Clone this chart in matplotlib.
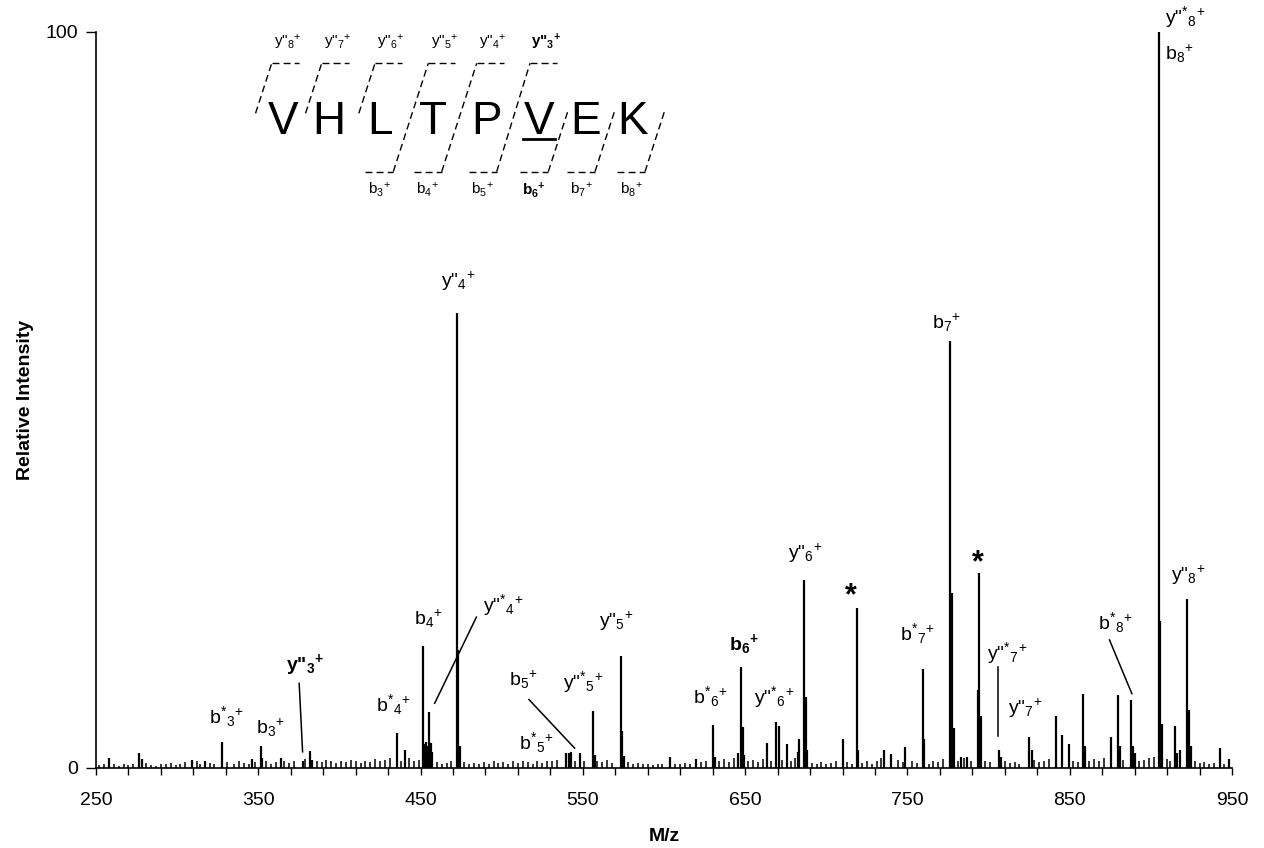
import numpy as np
import matplotlib
matplotlib.use('Agg')
import matplotlib.pyplot as plt
from matplotlib.ticker import FixedLocator

plt.rcParams['font.family'] = ['Liberation Sans', 'DejaVu Sans']
plt.rcParams['mathtext.fontset'] = 'custom'
plt.rcParams['mathtext.rm'] = 'Liberation Sans'
plt.rcParams['mathtext.bf'] = 'Liberation Sans:bold'
plt.rcParams['mathtext.default'] = 'regular'

# fragment / major peaks (m/z, relative intensity)
peak_mz = [258.2, 276.7, 278.5, 308.9, 317.0, 327.5, 345.9, 351.4, 352.4, 363.7,
           377.3, 381.8, 383.0, 435.2, 440.3, 451.3, 452.3, 453.3, 454.3, 455.3,
           456.3, 457.3, 472.3, 473.3, 474.3, 539.8, 541.7, 543.0, 548.3, 556.3,
           557.3, 573.3, 574.3, 575.3, 603.5, 619.5, 630.4, 631.4, 645.3, 647.4,
           648.4, 649.4, 663.5, 668.8, 670.6, 675.7, 682.5, 683.3, 686.4, 687.4,
           688.4, 710.4, 718.7, 719.7, 735.6, 740.0, 748.5, 759.4, 760.4, 776.4,
           777.4, 778.4, 783.0, 787.0, 793.3, 794.3, 795.3, 806.4, 807.4, 825.0,
           826.7, 841.6, 845.3, 849.8, 858.4, 859.4, 875.6, 879.8, 880.8, 887.9,
           888.9, 890.0, 904.9, 905.9, 906.9, 915.0, 916.0, 918.2, 922.5, 923.5,
           924.5, 942.3, 948.0]
peak_int = [1.3, 2.0, 1.2, 1.1, 1.0, 3.5, 1.2, 3.0, 1.3, 1.3,
            1.0, 2.3, 1.1, 4.7, 2.5, 16.6, 3.2, 3.6, 3.0, 7.6,
            3.4, 2.2, 61.8, 16.0, 3.0, 2.0, 2.0, 2.2, 2.1, 7.7,
            1.8, 15.2, 5.0, 1.6, 1.5, 1.2, 5.8, 1.5, 2.0, 13.7,
            5.6, 1.8, 3.4, 6.3, 5.7, 3.3, 2.2, 3.9, 25.6, 9.7,
            2.5, 3.9, 21.7, 2.5, 2.4, 1.9, 2.8, 13.5, 4.0, 58.0,
            23.8, 5.5, 1.5, 1.5, 10.6, 26.5, 7.0, 2.4, 1.5, 4.2,
            2.5, 7.1, 4.5, 3.3, 10.1, 3.0, 4.2, 9.9, 3.0, 9.2,
            3.0, 2.0, 100.0, 20.0, 6.0, 5.7, 2.0, 2.4, 23.0, 7.9,
            3.0, 2.7, 1.2]

# baseline noise (m/z, relative intensity)
noise_peaks = [(252, 0.4), (255, 0.6), (261, 0.5), (264, 0.3), (267, 0.6), (270, 0.4),
               (273, 0.5), (281, 0.7), (284, 0.4), (287, 0.3), (290, 0.6), (293, 0.5),
               (296, 0.7), (299, 0.4), (302, 0.6), (305, 0.8), (312, 0.9), (314, 0.6),
               (320, 0.7), (323, 0.5), (331, 0.8), (335, 0.6), (338, 0.9), (341, 0.7),
               (344, 0.5), (348, 0.8), (355, 0.9), (358, 0.6), (361, 0.8), (366, 1.0),
               (369, 0.7), (372, 0.9), (379, 1.2), (386, 1.0), (389, 0.8), (392, 1.1),
               (395, 0.9), (398, 0.7), (401, 1.0), (404, 0.8), (407, 1.1), (410, 0.9),
               (413, 0.7), (416, 1.0), (419, 0.8), (422, 1.2), (425, 0.9), (428, 1.1),
               (431, 1.4), (438, 1.0), (443, 1.3), (446, 0.9), (449, 1.1), (460, 0.8),
               (463, 0.6), (466, 0.7), (469, 0.9), (477, 0.8), (480, 0.6), (483, 0.7),
               (486, 0.5), (489, 0.8), (492, 0.6), (495, 0.9), (498, 0.7), (501, 0.8),
               (504, 0.6), (507, 0.9), (510, 0.7), (513, 1.0), (516, 0.8), (519, 0.6),
               (522, 0.9), (525, 0.7), (528, 1.0), (531, 0.9), (534, 1.1), (545, 1.0),
               (551, 0.9), (559, 1.0), (562, 0.8), (565, 1.1), (568, 0.7), (578, 0.8),
               (581, 0.6), (584, 0.7), (587, 0.5), (590, 0.6), (593, 0.4), (596, 0.6),
               (599, 0.5), (607, 0.6), (610, 0.5), (613, 0.7), (616, 0.5), (623, 0.8),
               (626, 1.0), (634, 0.9), (637, 1.2), (640, 0.8), (643, 1.3), (652, 0.9),
               (655, 1.1), (658, 0.8), (661, 1.2), (666, 1.0), (673, 1.1), (678, 0.9),
               (681, 1.3), (691, 0.7), (694, 0.5), (697, 0.8), (700, 0.6), (703, 0.7),
               (706, 0.9), (713, 0.8), (716, 0.6), (722, 0.7), (725, 0.9), (728, 0.6),
               (731, 1.0), (734, 1.3), (744, 1.1), (747, 0.8), (753, 0.9), (756, 0.7),
               (763, 0.6), (766, 0.9), (769, 0.8), (772, 1.2), (781, 1.0), (785, 1.3),
               (789, 0.9), (798, 1.0), (801, 0.8), (810, 0.9), (813, 0.7), (816, 0.8),
               (819, 0.6), (828, 1.1), (831, 0.8), (834, 0.9), (837, 1.2), (852, 1.0),
               (855, 0.8), (862, 0.9), (865, 1.2), (868, 1.0), (871, 1.4), (883, 1.1),
               (893, 0.9), (896, 1.1), (899, 1.3), (902, 1.5), (910, 1.2), (912, 0.9),
               (927, 1.0), (930, 0.7), (933, 0.8), (936, 0.6), (939, 0.7), (945, 0.6)]

# peak annotations: text, m/z, intensity, bold
ion_labels = [
    ('b$^{*}{}_{3}{}^{+}$', 330.5, 7.0, False),
    ('b$_{3}{}^{+}$', 357.1, 5.4, False),
    ('y"$_{\\mathbf{3}}{}^{\\mathbf{+}}$', 378.7, 14.0, True),
    ('b$^{*}{}_{4}{}^{+}$', 433.0, 8.6, False),
    ('b$_{4}{}^{+}$', 454.6, 20.3, False),
    ('y"$^{*}{}_{4}{}^{+}$', 501.0, 22.1, False),
    ('y"$_{4}{}^{+}$', 473.1, 66.1, False),
    ('b$_{5}{}^{+}$', 513.1, 12.0, False),
    ('b$^{*}{}_{5}{}^{+}$', 521.3, 3.4, False),
    ('y"$^{*}{}_{5}{}^{+}$', 550.0, 11.7, False),
    ('y"$_{5}{}^{+}$', 570.6, 19.9, False),
    ('b$^{*}{}_{6}{}^{+}$', 628.5, 9.7, False),
    ('b$_{\\mathbf{6}}{}^{\\mathbf{+}}$', 649.2, 16.8, True),
    ('y"$^{*}{}_{6}{}^{+}$', 667.6, 9.7, False),
    ('y"$_{6}{}^{+}$', 687.2, 29.2, False),
    ('b$^{*}{}_{7}{}^{+}$', 756.1, 18.2, False),
    ('b$_{7}{}^{+}$', 774.0, 60.5, False),
    ('y"$^{*}{}_{7}{}^{+}$', 811.3, 15.6, False),
    ('y"$_{7}{}^{+}$', 822.3, 8.1, False),
    ('b$^{*}{}_{8}{}^{+}$', 878.0, 19.7, False),
    ('y"$_{8}{}^{+}$', 922.8, 26.2, False),
]
star_labels = [(715.2, 23.3), (793.2, 27.8)]
top_labels = [('y"$^{*}{}_{8}{}^{+}$', 102.0), ('b$_{8}{}^{+}$', 97.0)]

# pointer lines (m/z0, int0, m/z1, int1)
pointers = [(375.2, 11.5, 377.3, 2.2),
            (484.4, 20.5, 458.7, 8.8),
            (516.8, 9.3, 544.9, 2.7),
            (805.6, 13.7, 805.6, 4.4),
            (874.5, 17.4, 888.3, 10.1)]

sequence = list('VHLTPVEK')
y_ions = ['8', '7', '6', '5', '4', '3']
b_ions = ['3', '4', '5', '6', '7', '8']

W, H = 1264, 848
fig = plt.figure(figsize=(W / 100, H / 100), dpi=100)
ax = fig.add_axes([96 / W, 1 - 768 / H, (1232 - 96) / W, (768 - 32) / H])

ax.vlines([p[0] for p in noise_peaks], 0, [p[1] for p in noise_peaks],
          color='black', lw=1.1)
ax.vlines(peak_mz, 0, peak_int, color='black', lw=1.6)

ax.set_xlim(250, 950)
ax.set_ylim(0, 100)
for s in ['top', 'right']:
    ax.spines[s].set_visible(False)
for s in ['left', 'bottom']:
    ax.spines[s].set_linewidth(1.2)
ax.xaxis.set_major_locator(FixedLocator(np.arange(250, 951, 100)))
ax.xaxis.set_minor_locator(FixedLocator(np.arange(250, 951, 20)))
ax.set_yticks([0, 100])
ax.tick_params(axis='x', which='both', direction='out', length=5, width=1.0,
               labelsize=14, pad=12)
ax.tick_params(axis='y', direction='out', length=7, width=1.0, labelsize=14, pad=6)
ax.set_xlabel('M/z', fontsize=14, fontweight='bold', labelpad=14)
ax.set_ylabel('Relative Intensity', fontsize=14, fontweight='bold', labelpad=8)

for txt, x, y, bold in ion_labels:
    ax.text(x, y, txt, ha='center', va='center', fontsize=14,
            fontweight='bold' if bold else 'normal', clip_on=False)
for x, y in star_labels:
    ax.text(x, y, '*', ha='center', va='center', fontsize=22, fontweight='bold')
for txt, y in top_labels:
    ax.text(909, y, txt, ha='left', va='center', fontsize=14, clip_on=False)
for x0, y0, x1, y1 in pointers:
    ax.plot([x0, x1], [y0, y1], color='black', lw=1.1)

# peptide sequence scheme (figure pixel coordinates)
def fpt(x, y):
    return x / W, 1 - y / H

def fline(xs, ys, **kw):
    fx, fy = zip(*[fpt(a, b) for a, b in zip(xs, ys)])
    fig.add_artist(plt.Line2D(fx, fy, transform=fig.transFigure, color='black', **kw))

dash = dict(lw=1.0, linestyle=(0, (5, 3)))
letter_x = [282.7, 329, 380, 433.3, 486.7, 539, 585.7, 632.3]
for ch, x in zip(sequence, letter_x):
    fig.text(*fpt(x, 133.5), ch, ha='center', va='baseline', fontsize=33)
fline([523, 555], [138.5, 138.5], lw=2.0)

slope = 0.323
y_top, y_mid, y_bot, y_btop = 63.3, 113.3, 171.7, 110
up_x = [271.7, 321.7, 375, 428.3, 476.7, 530]
low_x = [393.3, 441.7, 496.7, 548.3, 595, 645]
for i, (c, lab) in enumerate(zip(up_x, y_ions)):
    fline([c, c + 27], [y_top, y_top], **dash)
    if i < 3:
        fline([c - slope * (y_mid - y_top), c], [y_mid, y_top], **dash)
    bold = lab == '3'
    t = 'y"$_{\\mathbf{3}}{}^{\\mathbf{+}}$' if bold else 'y"$_{%s}{}^{+}$' % lab
    fig.text(*fpt(c + 16, 42), t, ha='center', va='center', fontsize=11,
             fontweight='bold' if bold else 'normal')
for i, (b, lab) in enumerate(zip(low_x, b_ions)):
    fline([b - 28, b], [y_bot, y_bot], **dash)
    if i < 3:
        fline([b, up_x[i + 3]], [y_bot, y_top], **dash)
    else:
        fline([b, b + slope * (y_bot - y_btop)], [y_bot, y_btop], **dash)
    bold = lab == '6'
    t = 'b$_{\\mathbf{6}}{}^{\\mathbf{+}}$' if bold else 'b$_{%s}{}^{+}$' % lab
    fig.text(*fpt(b - 14, 190), t, ha='center', va='center', fontsize=11,
             fontweight='bold' if bold else 'normal')

fig.savefig('out.png', dpi=100)
